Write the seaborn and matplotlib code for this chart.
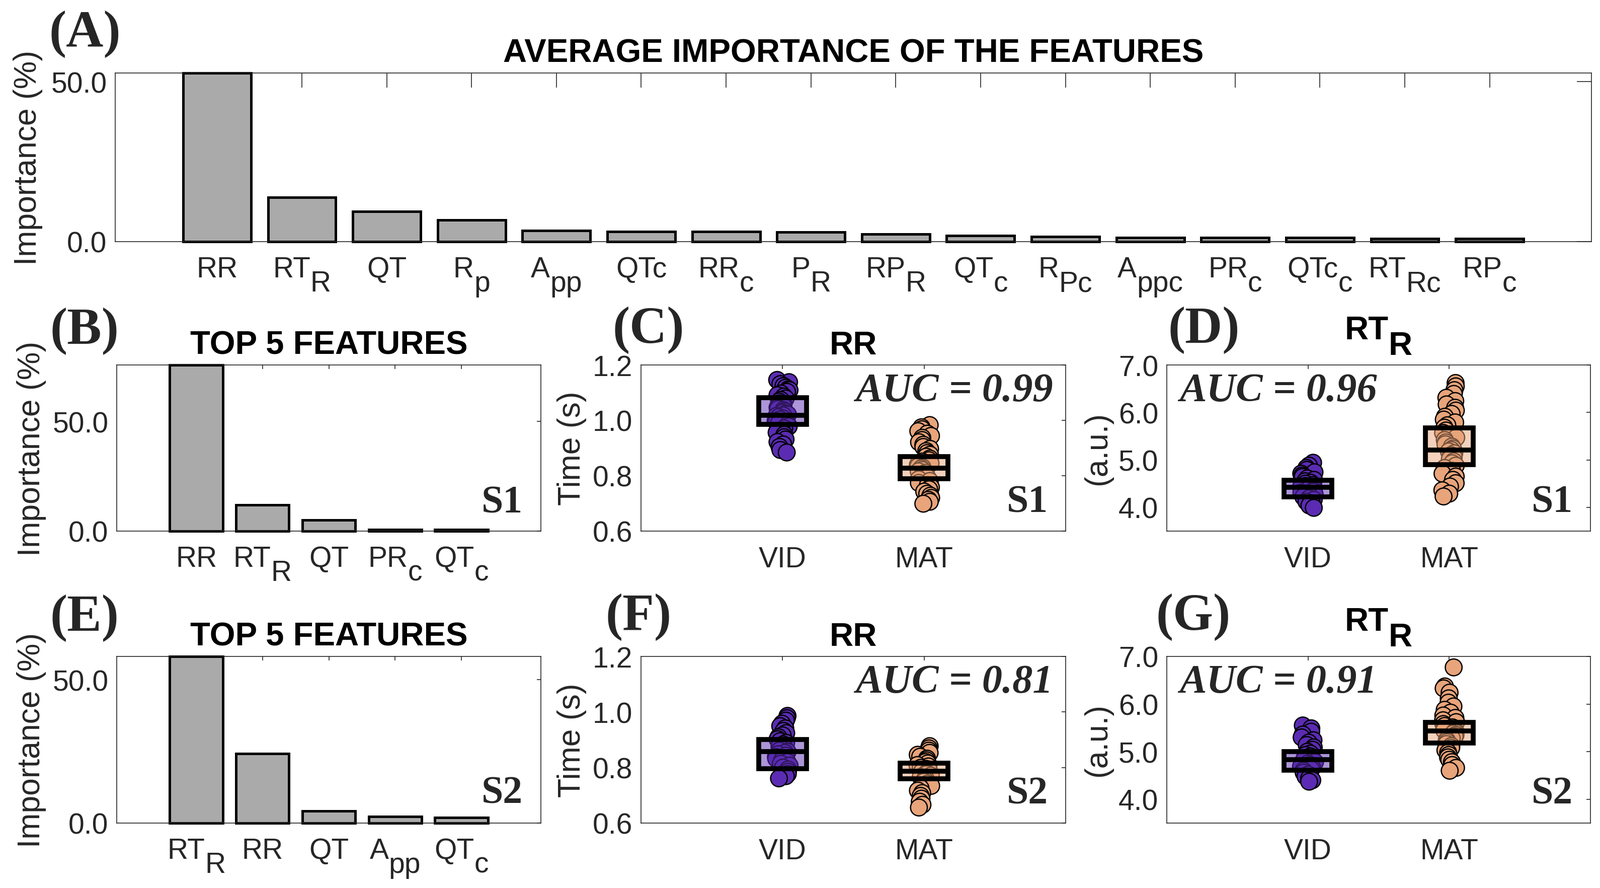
import numpy as np
import pandas as pd
import seaborn as sns
import matplotlib
matplotlib.use("Agg")
import matplotlib.pyplot as plt
from matplotlib import transforms
from matplotlib.colors import to_rgba
from matplotlib.ticker import FormatStrFormatter

# ---- data ----
# (main text, subscript) for each feature
feat_all = [("RR", ""), ("RT", "R"), ("QT", ""), ("R", "p"), ("A", "pp"), ("QTc", ""),
            ("RR", "c"), ("P", "R"), ("RP", "R"), ("QT", "c"), ("R", "Pc"), ("A", "ppc"),
            ("PR", "c"), ("QTc", "c"), ("RT", "Rc"), ("RP", "c")]
imp_all = [52.7, 13.8, 9.4, 6.8, 3.5, 3.2, 3.1, 3.0, 2.3, 1.9, 1.5, 1.2, 1.2, 1.2, 1.0, 1.0]

feat_s1 = [("RR", ""), ("RT", "R"), ("QT", ""), ("PR", "c"), ("QT", "c")]
imp_s1 = [75.7, 12.0, 5.1, 0.7, 0.6]

feat_s2 = [("RT", "R"), ("RR", ""), ("QT", ""), ("A", "pp"), ("QT", "c")]
imp_s2 = [58.1, 24.2, 4.2, 2.3, 2.0]

groups = ["VID", "MAT"]

# S1, RR (s)
rr_s1_vid = [1.146, 1.138, 1.131, 1.124, 1.118, 1.112, 1.109, 1.103, 1.097, 1.091, 1.086,
             1.079, 1.074, 1.068, 1.061, 1.057, 1.052, 1.046, 1.041, 1.037, 1.033, 1.028,
             1.024, 1.021, 1.018, 1.016, 1.012, 1.007, 1.003, 0.998, 0.994, 0.989, 0.984,
             0.978, 0.971, 0.963, 0.956, 0.948, 0.939, 0.931, 0.922, 0.913, 0.904, 0.893, 0.884]
rr_s1_mat = [0.983, 0.975, 0.968, 0.961, 0.952, 0.944, 0.937, 0.929, 0.921, 0.912, 0.904,
             0.897, 0.889, 0.882, 0.876, 0.869, 0.862, 0.856, 0.851, 0.845, 0.839, 0.834,
             0.830, 0.826, 0.821, 0.816, 0.811, 0.805, 0.799, 0.793, 0.787, 0.781, 0.774,
             0.766, 0.758, 0.751, 0.743, 0.735, 0.728, 0.720, 0.713, 0.706, 0.699]
rr_s1_box = {"lo": [0.985, 0.789], "mid": [1.018, 0.828], "hi": [1.082, 0.869]}

# S1, RT_R (a.u.)
rt_s1_vid = [4.94, 4.88, 4.83, 4.79, 4.74, 4.71, 4.67, 4.64, 4.61, 4.58, 4.55, 4.52, 4.50,
             4.47, 4.45, 4.43, 4.42, 4.41, 4.39, 4.37, 4.35, 4.33, 4.31, 4.28, 4.25, 4.22,
             4.19, 4.16, 4.12, 4.08, 4.04, 3.99]
rt_s1_mat = [6.62, 6.55, 6.47, 6.39, 6.31, 6.24, 6.17, 6.10, 6.04, 5.97, 5.91, 5.85, 5.79,
             5.73, 5.68, 5.62, 5.57, 5.52, 5.47, 5.42, 5.37, 5.33, 5.28, 5.24, 5.21, 5.18,
             5.14, 5.10, 5.06, 5.02, 4.97, 4.93, 4.88, 4.83, 4.77, 4.71, 4.65, 4.58, 4.51,
             4.44, 4.36, 4.29, 4.23]
rt_s1_box = {"lo": [4.22, 4.90], "mid": [4.42, 5.21], "hi": [4.57, 5.67]}

# S2, RR (s)
rr_s2_vid = [0.986, 0.978, 0.969, 0.958, 0.949, 0.941, 0.932, 0.924, 0.916, 0.909, 0.902,
             0.895, 0.889, 0.883, 0.877, 0.871, 0.866, 0.861, 0.857, 0.853, 0.848, 0.843,
             0.838, 0.832, 0.826, 0.820, 0.814, 0.807, 0.800, 0.793, 0.785, 0.777, 0.769, 0.761]
rr_s2_mat = [0.877, 0.869, 0.861, 0.853, 0.846, 0.839, 0.832, 0.826, 0.820, 0.815, 0.809,
             0.804, 0.799, 0.795, 0.791, 0.787, 0.784, 0.780, 0.776, 0.771, 0.766, 0.761,
             0.755, 0.749, 0.742, 0.734, 0.726, 0.717, 0.708, 0.698, 0.688, 0.677, 0.666, 0.656]
rr_s2_box = {"lo": [0.795, 0.760], "mid": [0.857, 0.786], "hi": [0.901, 0.816]}

# S2, RT_R (a.u.)
rt_s2_vid = [5.55, 5.49, 5.42, 5.36, 5.30, 5.24, 5.19, 5.14, 5.09, 5.04, 5.00, 4.96, 4.93,
             4.90, 4.87, 4.85, 4.83, 4.81, 4.78, 4.75, 4.72, 4.69, 4.66, 4.63, 4.60, 4.56,
             4.52, 4.48, 4.44, 4.40, 4.37]
rt_s2_mat = [6.77, 6.37, 6.33, 6.24, 6.12, 6.03, 5.95, 5.88, 5.82, 5.76, 5.71, 5.66, 5.62,
             5.58, 5.54, 5.51, 5.48, 5.45, 5.43, 5.41, 5.38, 5.35, 5.32, 5.28, 5.24, 5.20,
             5.16, 5.12, 5.08, 5.03, 4.98, 4.93, 4.88, 4.83, 4.78, 4.72, 4.66, 4.60]
rt_s2_box = {"lo": [4.61, 5.18], "mid": [4.83, 5.43], "hi": [5.00, 5.62]}

auc = {"C": "0.99", "D": "0.96", "F": "0.81", "G": "0.91"}

# ---- style ----
BAR_GREY = "#aaaaaa"
PURPLE = "#5b2cb3"
PEACH = "#e8a47a"
AX_COL = "#262626"
SERIF = "Liberation Serif"

sns.set_theme(style="white")
plt.rcParams["font.family"] = ["Liberation Sans", "DejaVu Sans"]
plt.rcParams["axes.edgecolor"] = AX_COL
plt.rcParams["axes.linewidth"] = 0.6
plt.rcParams["xtick.color"] = AX_COL
plt.rcParams["ytick.color"] = AX_COL

W, H, DPI = 3180, 1765, 200
fig = plt.figure(figsize=(W / DPI, H / DPI), dpi=DPI)


def px_axes(left, top, right, bottom):
    return fig.add_axes([left / W, 1 - bottom / H, (right - left) / W, (bottom - top) / H])


ax_a = px_axes(229, 146, 3163, 481)
ax_b = px_axes(232, 726, 1075, 1056)
ax_c = px_axes(1274, 726, 2118, 1056)
ax_d = px_axes(2319, 726, 3161, 1056)
ax_e = px_axes(232, 1305, 1075, 1636)
ax_f = px_axes(1274, 1305, 2118, 1636)
ax_g = px_axes(2319, 1305, 3161, 1636)

pairs = []  # (base transform, main text, sub text, dy_main in, dy_sub in)


def sub_label(ax, base, x, y, main, sub, dy_main, dy_sub, **kw):
    t1 = ax.text(x, y, main, transform=base, ha="left", va="baseline", **kw)
    t2 = ax.text(x, y, sub, transform=base, ha="left", va="baseline", **kw) if sub else None
    pairs.append((base, t1, t2, dy_main, dy_sub))


def frame(ax, ticklen):
    ax.tick_params(direction="in", top=True, right=True, length=ticklen, width=0.6,
                   labelsize=20.5, labelcolor=AX_COL, pad=6)
    for s in ax.spines.values():
        s.set_color(AX_COL)
        s.set_linewidth(0.6)


def bar_panel(ax, feats, vals, ticklen, title):
    keys = [m + "_" + s for m, s in feats]
    sns.barplot(x=keys, y=vals, color=BAR_GREY, saturation=1, edgecolor="black",
                linewidth=1.8, width=0.8, errorbar=None, ax=ax)
    for p in ax.patches:
        p.set_clip_on(False)
    n = len(vals)
    ax.set_xlim(-1.2, n - 1 + 1.2)
    ax.set_ylim(0, max(vals))
    ax.set_yticks([0, 50])
    ax.yaxis.set_major_formatter(FormatStrFormatter("%.1f"))
    ax.set_xticks(range(n))
    frame(ax, ticklen)
    ax.tick_params(axis="x", labelbottom=False)
    ax.set_xlabel("")
    ax.set_ylabel("Importance (%)", fontsize=22.5, color=AX_COL)
    ax.set_title(title, fontsize=23.5, fontweight="bold", color="black", pad=8)
    base = transforms.blended_transform_factory(ax.transData, ax.transAxes)
    for i, (m, s) in enumerate(feats):
        sub_label(ax, base, i, 0, m, s, -70 / DPI, -98 / DPI, fontsize=20.5, color=AX_COL)


def scatter_panel(ax, vid, mat, box, ylim, yticks, ylabel):
    df = pd.DataFrame({"cond": ["VID"] * len(vid) + ["MAT"] * len(mat), "value": vid + mat})
    sns.stripplot(data=df, x="cond", y="value", hue="cond", order=groups,
                  palette={"VID": PURPLE, "MAT": PEACH}, jitter=0.05, size=12,
                  linewidth=0.9, edgecolor="black", legend=False, ax=ax, zorder=2)
    xs = np.arange(len(groups))
    ax.bar(xs, np.subtract(box["hi"], box["lo"]), bottom=box["lo"], width=0.34,
           color=[to_rgba(PURPLE, 0.5), to_rgba(PEACH, 0.5)], edgecolor="black",
           linewidth=3.5, zorder=3)
    ax.hlines(box["mid"], xs - 0.17, xs + 0.17, colors="black", linewidth=3.5, zorder=4)
    ax.set_xlim(-1, 2)
    ax.set_ylim(*ylim)
    ax.set_yticks(yticks)
    ax.yaxis.set_major_formatter(FormatStrFormatter("%.1f"))
    ax.set_xticks(xs, groups)
    frame(ax, 3)
    ax.tick_params(axis="x", pad=10.4)
    ax.set_xlabel("")
    ax.set_ylabel(ylabel, fontsize=22.5, color=AX_COL)


def panel_tag(ax, auc_txt, s_txt, auc_left):
    if auc_left:
        ax.text(0.0297, 0.785, "AUC = " + auc_txt, transform=ax.transAxes, ha="left",
                va="baseline", fontsize=29, fontstyle="italic", fontweight="bold", family=SERIF)
    else:
        ax.text(0.970, 0.785, "AUC = " + auc_txt, transform=ax.transAxes, ha="right",
                va="baseline", fontsize=29, fontstyle="italic", fontweight="bold", family=SERIF)
    ax.text(0.958, 0.118, s_txt, transform=ax.transAxes, ha="right", va="baseline",
            fontsize=28, fontweight="bold", family=SERIF)


bar_panel(ax_a, feat_all, imp_all, 10.4, "AVERAGE IMPORTANCE OF THE FEATURES")
bar_panel(ax_b, feat_s1, imp_s1, 3, "TOP 5 FEATURES")
bar_panel(ax_e, feat_s2, imp_s2, 3, "TOP 5 FEATURES")
ax_b.text(0.957, 0.115, "S1", transform=ax_b.transAxes, ha="right", va="baseline",
          fontsize=28, fontweight="bold", family=SERIF)
ax_e.text(0.957, 0.121, "S2", transform=ax_e.transAxes, ha="right", va="baseline",
          fontsize=28, fontweight="bold", family=SERIF)

scatter_panel(ax_c, rr_s1_vid, rr_s1_mat, rr_s1_box, (0.6, 1.2), [0.6, 0.8, 1.0, 1.2], "Time (s)")
scatter_panel(ax_d, rt_s1_vid, rt_s1_mat, rt_s1_box, (3.5, 7.0), [4, 5, 6, 7], "(a.u.)")
scatter_panel(ax_f, rr_s2_vid, rr_s2_mat, rr_s2_box, (0.6, 1.2), [0.6, 0.8, 1.0, 1.2], "Time (s)")
scatter_panel(ax_g, rt_s2_vid, rt_s2_mat, rt_s2_box, (3.5, 7.0), [4, 5, 6, 7], "(a.u.)")

panel_tag(ax_c, auc["C"], "S1", False)
panel_tag(ax_d, auc["D"], "S1", True)
panel_tag(ax_f, auc["F"], "S2", False)
panel_tag(ax_g, auc["G"], "S2", True)

for ax in (ax_c, ax_f):
    ax.set_title("RR", fontsize=23.5, fontweight="bold", color="black", pad=8)
for ax in (ax_d, ax_g):
    sub_label(ax, ax.transAxes, 0.5, 1.0, "RT", "R", 52 / DPI, 21 / DPI,
              fontsize=23.5, fontweight="bold", color="black")

# y-label positions (axes fraction of right edge)
ax_a.yaxis.set_label_coords(-0.049, 0.5)
for ax in (ax_b, ax_e):
    ax.yaxis.set_label_coords(-0.166, 0.5)
for ax in (ax_c, ax_f, ax_d, ax_g):
    ax.yaxis.set_label_coords(-0.128, 0.5)

# panel letters
letters = [("(A)", 97, 93), ("(B)", 99, 683), ("(C)", 1217, 681), ("(D)", 2322, 681),
           ("(E)", 99, 1253), ("(F)", 1204, 1251), ("(G)", 2297, 1251)]
for txt, x, y in letters:
    fig.text(x / W, 1 - y / H, txt, fontsize=37, fontweight="bold", family=SERIF,
             ha="left", va="baseline")

# centre the labels that carry a subscript
renderer = fig.canvas.get_renderer()
for base, t1, t2, dy1, dy2 in pairs:
    w1 = t1.get_window_extent(renderer).width
    w2 = t2.get_window_extent(renderer).width if t2 is not None else 0
    x0 = -(w1 + w2) / 2 / DPI
    t1.set_transform(base + transforms.ScaledTranslation(x0, dy1, fig.dpi_scale_trans))
    if t2 is not None:
        t2.set_transform(base + transforms.ScaledTranslation(x0 + w1 / DPI, dy2,
                                                             fig.dpi_scale_trans))

fig.savefig("out.png", dpi=DPI)
